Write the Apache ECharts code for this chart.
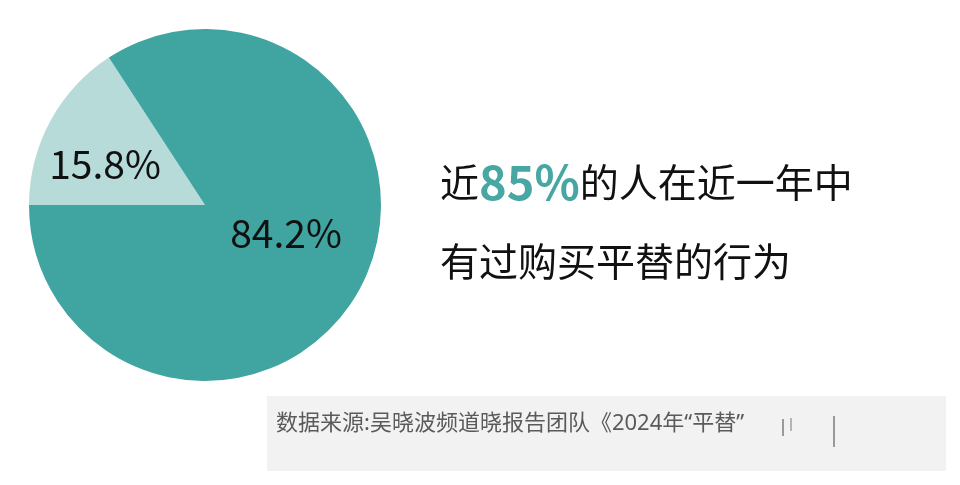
<!DOCTYPE html>
<html>
<head>
<meta charset="utf-8">
<script src="https://cdn.jsdelivr.net/npm/echarts@6/dist/echarts.min.js"></script>
<style>
html,body{margin:0;padding:0;background:#fff;}
#main{width:960px;height:485px;}
</style>
</head>
<body>
<div id="main"></div>
<script>
var categories = ['未购买平替', '有过购买平替行为'];
var values = [15.8, 84.2];
var headlineNumber = '85%';
var headlineLine1Before = '近';
var headlineLine1After = '的人在近一年中';
var headlineLine2 = '有过购买平替的行为';
var sourceText = '数据来源:吴晓波频道晓报告团队《2024年“平替”';

var colors = ['#b6dbd8', '#40a5a1'];
var labelOffsets = [[-20, 3], [1, -15]];

var chart = echarts.init(document.getElementById('main'));
var font = '"Noto Sans CJK SC", "Noto Sans", sans-serif';
var srcFont = '"Noto Sans", "Noto Sans CJK SC", sans-serif';

var data = categories.map(function (c, i) {
  return {
    name: c,
    value: values[i],
    itemStyle: { color: colors[i] },
    label: { offset: labelOffsets[i] }
  };
});

chart.setOption({
  backgroundColor: '#ffffff',
  animation: false,
  graphic: [
    {
      type: 'rect',
      shape: { x: 267, y: 396, width: 679, height: 75 },
      style: { fill: '#f2f2f2' },
      silent: true
    },
    {
      type: 'text',
      left: 276,
      top: 413,
      style: {
        text: sourceText,
        font: '22px ' + srcFont,
        fill: '#5a5a5a'
      }
    },
    { type: 'line', shape: { x1: 783, y1: 419, x2: 783, y2: 436 }, style: { stroke: '#9a9a9a', lineWidth: 2 }, silent: true },
    { type: 'line', shape: { x1: 791, y1: 418, x2: 791, y2: 431 }, style: { stroke: '#b5b5b5', lineWidth: 2 }, silent: true },
    { type: 'line', shape: { x1: 834, y1: 416, x2: 834, y2: 447 }, style: { stroke: '#9a9a9a', lineWidth: 2 }, silent: true }
  ],
  title: [
    {
      left: 435,
      top: 154,
      text: '{a|' + headlineLine1Before + '}{b|' + headlineNumber + '}{a|' + headlineLine1After + '}',
      textStyle: {
        rich: {
          a: { fontSize: 39, fontFamily: font, color: '#111111', fontWeight: 'normal' },
          b: { fontSize: 47, fontFamily: font, color: '#48a7a2', fontWeight: 'bold' }
        }
      }
    },
    {
      left: 435,
      top: 237,
      text: headlineLine2,
      textStyle: { fontSize: 39, fontFamily: font, color: '#111111', fontWeight: 'normal' }
    }
  ],
  series: [
    {
      type: 'pie',
      center: [205, 205],
      radius: 176,
      startAngle: 180,
      clockwise: true,
      silent: true,
      label: {
        show: true,
        position: 'inside',
        formatter: function (p) { return p.value.toFixed(1) + '%'; },
        fontSize: 39,
        fontFamily: font,
        color: '#111111'
      },
      labelLine: { show: false },
      itemStyle: { borderWidth: 0 },
      data: data
    }
  ]
});
</script>
</body>
</html>
